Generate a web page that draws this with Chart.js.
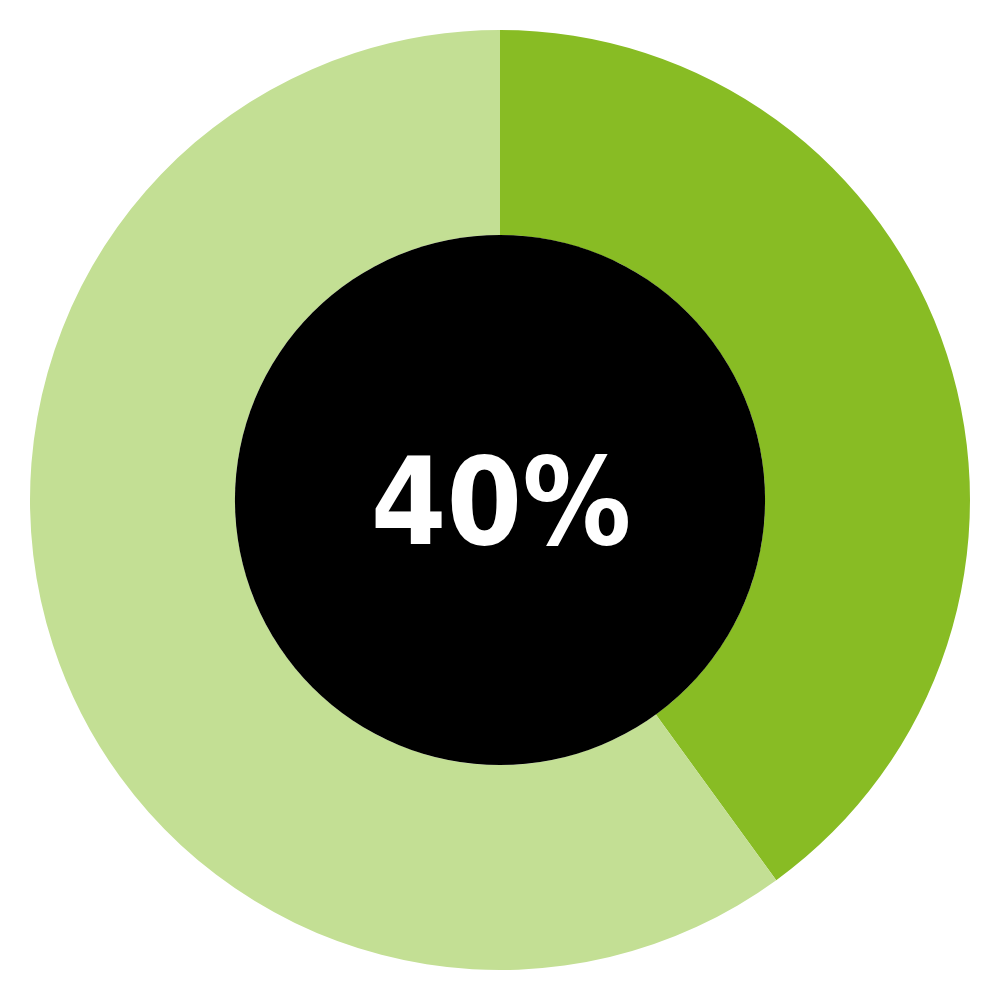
<!DOCTYPE html>
<html>
<head>
<meta charset="utf-8">
<script src="https://cdn.jsdelivr.net/npm/chart.js@4/dist/chart.umd.min.js"></script>
<style>
  html, body { margin: 0; padding: 0; background: #fff; }
  #wrap { width: 1000px; height: 1000px; }
</style>
</head>
<body>
<div id="wrap"><canvas id="donut" width="1000" height="1000"></canvas></div>
<script>
// Share of the ring: highlighted part vs the rest
const labels = ['Share', 'Rest'];
const values = [40, 60];
const colors = ['#88bc24', '#c3df94'];
const centerLabel = '40%';

// Fill the hole black and write the percentage in it
const centerDisc = {
  id: 'centerDisc',
  afterDatasetsDraw(chart){
    const arc = chart.getDatasetMeta(0).data[0];
    if(!arc) return;
    const ctx = chart.ctx;
    ctx.save();
    ctx.beginPath();
    ctx.arc(arc.x, arc.y, arc.innerRadius, 0, Math.PI * 2);
    ctx.fillStyle = '#000';
    ctx.fill();
    ctx.fillStyle = '#fff';
    if('fontStretch' in ctx) ctx.fontStretch = 'condensed';
    ctx.font = 'bold 121px "DejaVu Sans Condensed", "DejaVu Sans", sans-serif';
    ctx.textAlign = 'center';
    ctx.textBaseline = 'alphabetic';
    ctx.fillText(centerLabel, arc.x + 1, arc.y + 44);
    ctx.restore();
  }
};

new Chart(document.getElementById('donut'), {
  type: 'doughnut',
  data: {
    labels: labels,
    datasets: [{
      data: values,
      backgroundColor: colors,
      borderWidth: 0
    }]
  },
  options: {
    responsive: false,
    animation: false,
    cutout: '56.4%',
    layout: { padding: 30 },
    plugins: { legend: { display: false }, tooltip: { enabled: false } }
  },
  plugins: [centerDisc]
});
</script>
</body>
</html>
